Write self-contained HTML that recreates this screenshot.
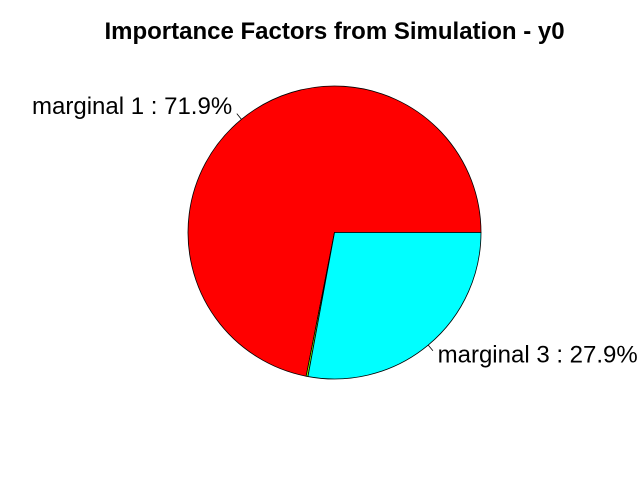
<!DOCTYPE html>
<html><head><meta charset="utf-8"><style>
html,body{margin:0;padding:0;background:#fff;}
svg{display:block;font-family:"Liberation Sans",sans-serif;}
</style></head><body>
<svg id="chart" width="640" height="480" viewBox="0 0 640 480">
<rect width="640" height="480" fill="#fff"/>
<text x="334.5" y="39" text-anchor="middle" font-size="24" font-weight="bold">Importance Factors from Simulation - y0</text>
<g id="slices"></g>
</svg>
<script>
const categories = ["marginal 1", "marginal 2", "marginal 3"];
const values = [71.9, 0.2, 27.9];
const showLabel = [true, false, true];
const colors = ["#ff0000", "#80ff00", "#00ffff"];
const cx = 334.5, cy = 232.5, r = 146.5;
const NS = "http://www.w3.org/2000/svg";
const g = document.getElementById('slices');
const total = values.reduce((a,b)=>a+b,0);
function pt(a, rr){ return [cx + rr*Math.cos(a), cy - rr*Math.sin(a)]; }
let acc = 0;
values.forEach((v,i)=>{
  const a0 = acc/total*2*Math.PI; acc += v;
  const a1 = acc/total*2*Math.PI;
  const p0 = pt(a0,r), p1 = pt(a1,r);
  const large = (a1-a0) > Math.PI ? 1 : 0;
  const path = document.createElementNS(NS,'path');
  path.setAttribute('d',`M${cx},${cy} L${p0[0]},${p0[1]} A${r},${r} 0 ${large} 0 ${p1[0]},${p1[1]} Z`);
  path.setAttribute('fill',colors[i]);
  path.setAttribute('stroke','#000');
  path.setAttribute('stroke-width','0.8');
  
  
  g.appendChild(path);
  if(showLabel[i]){
    const m = (a0+a1)/2;
    const q0 = pt(m,r), q1 = pt(m,r*1.05), q2 = pt(m,r*1.1);
    const ln = document.createElementNS(NS,'line');
    ln.setAttribute('x1',q0[0]); ln.setAttribute('y1',q0[1]);
    ln.setAttribute('x2',q1[0]); ln.setAttribute('y2',q1[1]);
    ln.setAttribute('stroke','#000'); ln.setAttribute('stroke-width','0.8');
    
    
    g.appendChild(ln);
    const t = document.createElementNS(NS,'text');
    t.setAttribute('x', q2[0]);
    t.setAttribute('y', q2[1]+6);
    t.setAttribute('font-size','24');
    t.setAttribute('text-anchor', Math.cos(m) < 0 ? 'end' : 'start');
    t.textContent = categories[i] + " : " + v.toFixed(1) + "%";
    
    
    g.appendChild(t);
  }
});
</script>
</body></html>
